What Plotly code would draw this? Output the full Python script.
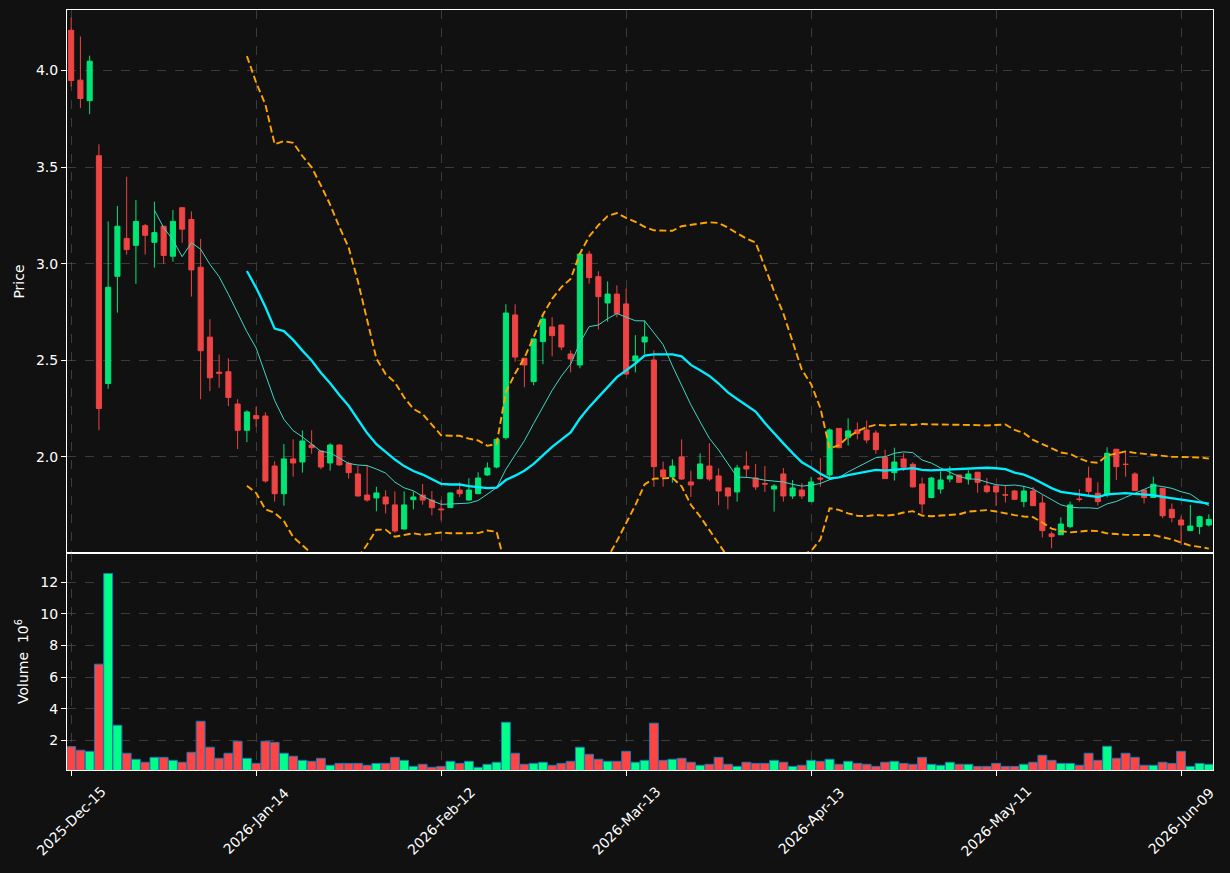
import pandas as pd
import numpy as np
import plotly.graph_objects as go
from plotly.subplots import make_subplots

# ---------------- data ----------------
holidays = ["2025-12-25", "2026-01-01", "2026-01-19", "2026-02-16", "2026-04-03", "2026-05-25"]
dates = pd.bdate_range("2025-12-15", periods=124, freq="C", holidays=holidays)

opens = [4.208, 3.950, 3.844, 3.559, 2.380, 2.935, 3.131, 3.095, 3.197, 3.111,
         3.194, 3.039, 3.290, 3.229, 2.982, 2.620, 2.439, 2.441, 2.274, 2.138,
         2.214, 2.212, 1.953, 1.810, 1.990, 1.974, 2.062, 2.031, 1.969, 2.062,
         1.967, 1.912, 1.803, 1.788, 1.793, 1.752, 1.627, 1.779, 1.803, 1.777,
         1.731, 1.738, 1.829, 1.777, 1.810, 1.907, 1.948, 2.100, 2.735, 2.511,
         2.390, 2.597, 2.673, 2.683, 2.533, 2.476, 3.050, 2.933, 2.797, 2.843,
         2.792, 2.497, 2.595, 2.502, 1.933, 1.897, 2.000, 1.871, 1.888, 1.953,
         1.902, 1.840, 1.819, 1.953, 1.891, 1.862, 1.834, 1.912, 1.798, 1.829,
         1.769, 1.891, 1.907, 2.148, 2.102, 2.140, 2.140, 2.124, 1.998, 1.919,
         1.990, 1.962, 1.860, 1.790, 1.834, 1.886, 1.907, 1.886, 1.921, 1.850,
         1.850, 1.805, 1.824, 1.769, 1.824, 1.762, 1.602, 1.598, 1.640, 1.783,
         1.890, 1.812, 1.803, 2.040, 1.963, 1.912, 1.829, 1.790, 1.838, 1.729,
         1.674, 1.619, 1.640, 1.648]
highs = [4.274, 4.176, 4.077, 3.618, 3.219, 3.299, 3.450, 3.330, 3.206, 3.321,
         3.196, 3.278, 3.292, 3.271, 3.129, 2.713, 2.530, 2.511, 2.299, 2.242,
         2.260, 2.231, 1.978, 2.067, 2.091, 2.138, 2.138, 2.033, 2.071, 2.066,
         1.976, 1.953, 1.959, 1.846, 1.828, 1.822, 1.822, 1.822, 1.860, 1.824,
         1.777, 1.816, 1.869, 1.890, 1.921, 1.972, 2.095, 2.790, 2.790, 2.513,
         2.613, 2.735, 2.723, 2.685, 2.552, 3.052, 3.066, 2.961, 2.909, 2.888,
         2.871, 2.630, 2.705, 2.552, 1.976, 1.988, 2.091, 1.929, 2.019, 2.071,
         1.941, 1.842, 1.959, 2.029, 1.964, 1.953, 1.860, 1.943, 1.881, 1.865,
         1.897, 1.993, 2.148, 2.150, 2.200, 2.179, 2.188, 2.138, 2.038, 2.048,
         2.019, 1.972, 1.893, 1.897, 1.926, 1.952, 1.909, 1.931, 1.923, 1.891,
         1.852, 1.855, 1.829, 1.850, 1.845, 1.803, 1.614, 1.688, 1.769, 1.833,
         1.950, 1.869, 2.050, 2.042, 2.028, 1.921, 1.831, 1.898, 1.840, 1.759,
         1.695, 1.752, 1.696, 1.703]
lows = [3.916, 3.805, 3.774, 2.138, 2.353, 2.747, 3.047, 2.896, 3.047, 2.980,
        3.000, 3.011, 3.109, 2.830, 2.299, 2.341, 2.358, 2.263, 2.041, 2.077,
        2.156, 1.867, 1.769, 1.748, 1.898, 1.919, 2.017, 1.936, 1.929, 1.955,
        1.888, 1.796, 1.769, 1.719, 1.708, 1.608, 1.625, 1.729, 1.753, 1.698,
        1.671, 1.736, 1.793, 1.775, 1.808, 1.902, 1.941, 2.090, 2.493, 2.361,
        2.371, 2.480, 2.521, 2.552, 2.438, 2.459, 2.897, 2.659, 2.700, 2.723,
        2.427, 2.438, 2.533, 1.846, 1.846, 1.867, 1.881, 1.793, 1.887, 1.876,
        1.750, 1.729, 1.769, 1.891, 1.829, 1.819, 1.717, 1.769, 1.783, 1.783,
        1.769, 1.846, 1.881, 2.046, 2.059, 2.091, 2.071, 2.016, 1.886, 1.878,
        1.928, 1.843, 1.708, 1.786, 1.810, 1.869, 1.867, 1.857, 1.815, 1.812,
        1.746, 1.764, 1.779, 1.740, 1.746, 1.584, 1.527, 1.597, 1.631, 1.769,
        1.803, 1.748, 1.791, 1.881, 1.898, 1.824, 1.760, 1.789, 1.683, 1.662,
        1.545, 1.618, 1.600, 1.640]
closes = [3.948, 3.855, 4.048, 2.251, 2.878, 3.194, 3.073, 3.219, 3.147, 3.161,
          3.043, 3.219, 3.179, 2.968, 2.550, 2.410, 2.433, 2.308, 2.138, 2.233,
          2.198, 1.876, 1.810, 1.990, 1.969, 2.083, 2.048, 1.948, 2.062, 1.959,
          1.919, 1.798, 1.777, 1.814, 1.757, 1.617, 1.752, 1.793, 1.777, 1.738,
          1.727, 1.814, 1.810, 1.829, 1.891, 1.943, 2.091, 2.745, 2.517, 2.476,
          2.611, 2.714, 2.628, 2.569, 2.507, 3.050, 2.928, 2.830, 2.843, 2.743,
          2.429, 2.523, 2.621, 1.950, 1.897, 1.953, 1.886, 1.855, 1.964, 1.886,
          1.824, 1.798, 1.943, 1.938, 1.845, 1.860, 1.850, 1.798, 1.840, 1.798,
          1.871, 1.886, 2.140, 2.048, 2.135, 2.121, 2.088, 2.038, 1.888, 1.974,
          1.947, 1.845, 1.757, 1.891, 1.881, 1.902, 1.869, 1.912, 1.869, 1.821,
          1.819, 1.803, 1.781, 1.824, 1.748, 1.619, 1.588, 1.653, 1.752, 1.780,
          1.821, 1.769, 2.019, 1.950, 1.961, 1.826, 1.790, 1.859, 1.696, 1.686,
          1.648, 1.643, 1.691, 1.677]
volumes = [1.60, 1.37, 1.30, 6.81, 12.55, 2.95, 1.18, 0.80, 0.61, 0.92,
           0.92, 0.73, 0.61, 1.24, 3.20, 1.56, 0.86, 1.18, 1.94, 0.86,
           0.54, 1.94, 1.87, 1.18, 0.99, 0.73, 0.67, 0.86, 0.42, 0.54,
           0.54, 0.54, 0.42, 0.54, 0.54, 0.92, 0.73, 0.35, 0.48, 0.29,
           0.35, 0.67, 0.54, 0.67, 0.29, 0.48, 0.61, 3.14, 1.18, 0.48,
           0.54, 0.61, 0.42, 0.54, 0.67, 1.56, 1.11, 0.80, 0.67, 0.67,
           1.30, 0.61, 0.73, 3.08, 0.73, 0.80, 0.86, 0.61, 0.42, 0.48,
           0.92, 0.48, 0.35, 0.61, 0.54, 0.54, 0.73, 0.61, 0.35, 0.42,
           0.73, 0.67, 0.80, 0.48, 0.67, 0.54, 0.48, 0.35, 0.61, 0.67,
           0.54, 0.48, 0.92, 0.48, 0.42, 0.61, 0.48, 0.48, 0.35, 0.35,
           0.54, 0.35, 0.35, 0.48, 0.61, 1.05, 0.73, 0.54, 0.54, 0.42,
           1.18, 0.73, 1.62, 0.86, 1.18, 0.92, 0.42, 0.42, 0.61, 0.54,
           1.30, 0.35, 0.54, 0.48]

x = [d.strftime("%Y-%m-%d") for d in dates]
labels = [d.strftime("%Y-%b-%d") for d in dates]
tick_vals = x[::20]
tick_text = labels[::20]

# ---------------- derived indicators ----------------
cs = pd.Series(closes)
ma10 = cs.rolling(10).mean()
ma20 = cs.rolling(20).mean()
sd20 = cs.rolling(20).std(ddof=0)
bb_up = ma20 + 2 * sd20
bb_lo = ma20 - 2 * sd20

UP_C, DN_C = "#00e676", "#ef4444"
VUP_C, VDN_C = "#00ff88", "#ff4444"
vol_colors = [VUP_C if c >= o else VDN_C for o, c in zip(opens, closes)]

fig = make_subplots(rows=2, cols=1, shared_xaxes=True, vertical_spacing=0,
                    row_heights=[0.7145, 0.2855])

fig.add_trace(go.Candlestick(
    x=x, open=opens, high=highs, low=lows, close=closes,
    increasing=dict(line=dict(color=UP_C, width=1), fillcolor=UP_C),
    decreasing=dict(line=dict(color=DN_C, width=1), fillcolor=DN_C),
    whiskerwidth=0, showlegend=False), row=1, col=1)

band_line = dict(color="#ffa500", width=1.9, dash="7px,3.5px")
fig.add_trace(go.Scatter(x=x, y=bb_up, mode="lines", line=band_line,
                         showlegend=False, hoverinfo="skip"), row=1, col=1)
fig.add_trace(go.Scatter(x=x, y=bb_lo, mode="lines", line=band_line,
                         showlegend=False, hoverinfo="skip"), row=1, col=1)
fig.add_trace(go.Scatter(x=x, y=ma10, mode="lines",
                         line=dict(color="#3fd6c6", width=1),
                         showlegend=False), row=1, col=1)
fig.add_trace(go.Scatter(x=x, y=ma20, mode="lines",
                         line=dict(color="#00eeff", width=2.3),
                         showlegend=False), row=1, col=1)

fig.add_trace(go.Bar(x=x, y=volumes, marker=dict(color=vol_colors,
                     line=dict(color="#1f77b4", width=1)),
                     showlegend=False), row=2, col=1)

grid = "rgba(110,110,110,0.45)"
font = "DejaVu Sans, sans-serif"

fig.update_layout(
    width=1230, height=873,
    paper_bgcolor="#111111", plot_bgcolor="#111111",
    margin=dict(l=67, r=17, t=10, b=103),
    font=dict(family=font, color="white", size=14),
    bargap=0.04, boxgap=0.45, boxgroupgap=0,
    showlegend=False,
)
fig.update_xaxes(type="category", range=[-0.45, 123.45],
                 tickvals=tick_vals, ticktext=tick_text,
                 showline=True, linecolor="white", linewidth=1, mirror=True,
                 showgrid=True, gridcolor=grid, griddash="dash", gridwidth=1,
                 zeroline=False, rangeslider=dict(visible=False))
fig.update_xaxes(showticklabels=False, ticks="", row=1, col=1)
fig.update_xaxes(showticklabels=False, ticks="outside", ticklen=5,
                 tickcolor="white", row=2, col=1)

# rotated, centred date labels under the ticks (matplotlib style)
for tv, tt in zip(tick_vals, tick_text):
    fig.add_annotation(x=tv, xref="x2", y=-(821 - 770) / 760, yref="paper",
                       text=tt, textangle=-45, showarrow=False,
                       xanchor="center", yanchor="middle",
                       font=dict(family=font, size=14, color="white"))

fig.update_yaxes(showline=True, linecolor="white", linewidth=1, mirror=True,
                 showgrid=True, gridcolor=grid, griddash="dash", gridwidth=1,
                 zeroline=False, ticks="outside", ticklen=5, tickcolor="white",
                 tickfont=dict(size=14, color="white"))
fig.update_yaxes(range=[1.503, 4.313], tickvals=[2.0, 2.5, 3.0, 3.5, 4.0],
                 ticktext=["2.0", "2.5", "3.0", "3.5", "4.0"],
                 title=dict(text="Price", font=dict(size=14), standoff=8),
                 row=1, col=1)
fig.update_yaxes(range=[0.12, 13.84], tickvals=[2, 4, 6, 8, 10, 12],
                 title=dict(text="Volume  10<sup>6</sup>", font=dict(size=14), standoff=8),
                 row=2, col=1)

fig.write_html("out.html")
